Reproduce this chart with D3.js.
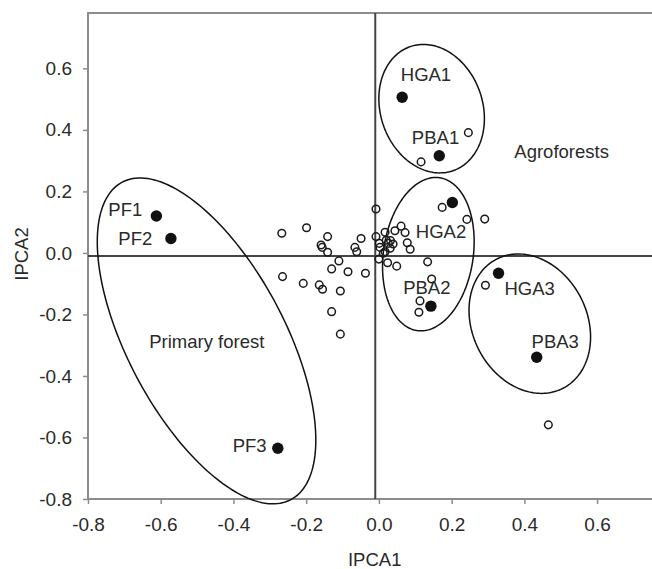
<!DOCTYPE html>
<html>
<head>
<meta charset="utf-8">
<script src="https://cdn.jsdelivr.net/npm/d3@7"></script>
<style>
  html, body { margin: 0; padding: 0; background: #fff; }
  svg { display: block; }
  text { font-family: "Liberation Sans", Arial, sans-serif; fill: #2a2a2a; }
</style>
</head>
<body>
<svg id="chart" width="652" height="569"></svg>
<script>
// ---- data ----
const siteNames = ["HGA1", "PBA1", "HGA2", "PBA2", "HGA3", "PBA3", "PF1", "PF2", "PF3"];
const siteX = [0.064, 0.166, 0.202, 0.143, 0.329, 0.434, -0.612, -0.572, -0.278];
const siteY = [0.506, 0.316, 0.164, -0.173, -0.066, -0.339, 0.120, 0.047, -0.635];

const speciesX = [-0.267, -0.199, -0.141, -0.159, -0.156, -0.141, -0.049, -0.066, -0.061, -0.008,
                  -0.008, 0.017, 0.044, -0.110, -0.130, -0.085, -0.037, -0.265, -0.208, -0.164,
                  -0.155, -0.106, -0.130, -0.106, 0.001, 0.003, 0.026, 0.031, 0.017, 0.000,
                  0.024, 0.049, 0.061, 0.072, 0.078, 0.086, 0.012, 0.134, 0.145, 0.113,
                  0.110, 0.293, 0.466, 0.246, 0.116, 0.174, 0.242, 0.291, 0.032, 0.020,
                  0.039];
const speciesY = [0.064, 0.082, 0.053, 0.026, 0.018, 0.002, 0.047, 0.018, 0.004, 0.143,
                  0.053, 0.067, 0.072, -0.026, -0.052, -0.061, -0.066, -0.077, -0.099, -0.104,
                  -0.118, -0.124, -0.191, -0.264, 0.031, 0.018, 0.031, 0.015, 0.004, -0.020,
                  -0.032, -0.043, 0.087, 0.066, 0.033, 0.012, -0.001, -0.029, -0.085, -0.156,
                  -0.193, -0.105, -0.559, 0.391, 0.296, 0.148, 0.109, 0.110, 0.040, 0.041,
                  0.029];

// ellipses: centre and two semi-axis vectors, all in data units
const ellipseCx = [-0.474, 0.145, 0.136, 0.415];
const ellipseCy = [-0.286, 0.469, -0.004, -0.230];
const ellipseA = [[0.232, -0.516], [0.059, -0.2016], [-0.0311, -0.2484], [0.0913, -0.210]];
const ellipseB = [[-0.191, -0.120], [-0.1326, -0.0543], [-0.1221, 0.0215], [-0.140, -0.0852]];

// labels (text, anchor position in data units, alignment)
const labelText = ["HGA1", "PBA1", "HGA2", "PBA2", "HGA3", "PBA3", "PF1", "PF2", "PF3", "Primary forest", "Agroforests"];
const labelX = [0.1295, 0.1557, 0.1708, 0.1317, 0.4147, 0.4849, -0.6507, -0.6232, -0.3086, -0.4733, 0.3724];
const labelY = [0.558, 0.353, 0.0494, -0.1346, -0.1352, -0.3101, 0.1209, 0.0257, -0.6463, -0.3101, 0.3075];
const labelAnchor = ["middle", "middle", "middle", "middle", "middle", "middle", "end", "end", "end", "middle", "start"];

const xTicks = [-0.8, -0.6, -0.4, -0.2, 0.0, 0.2, 0.4, 0.6];
const yTicks = [-0.8, -0.6, -0.4, -0.2, 0.0, 0.2, 0.4, 0.6];
const xDomain = [-0.8, 0.8];
const yDomain = [-0.8, 0.78];
const zeroLine = -0.01;
const xTitle = "IPCA1";
const yTitle = "IPCA2";

// ---- drawing ----
const svg = d3.select("#chart");
const x = d3.scaleLinear().domain(xDomain).range([88, 669.8]);
const y = d3.scaleLinear().domain(yDomain).range([499, 13]);
const fmt = d => d.toFixed(1);

// frame
svg.append("rect")
  .attr("x", x(xDomain[0])).attr("y", y(yDomain[1]))
  .attr("width", x(xDomain[1]) - x(xDomain[0]))
  .attr("height", y(yDomain[0]) - y(yDomain[1]))
  .attr("fill", "none").attr("stroke", "#8c8c8c").attr("stroke-width", 2);

// axes
const xAxis = svg.append("g").attr("transform", `translate(0,${y(yDomain[0])})`)
  .call(d3.axisBottom(x).tickValues(xTicks).tickFormat(fmt).tickSize(5).tickSizeOuter(0).tickPadding(14));
const yAxis = svg.append("g").attr("transform", `translate(${x(xDomain[0])},0)`)
  .call(d3.axisLeft(y).tickValues(yTicks).tickFormat(fmt).tickSize(5).tickSizeOuter(0).tickPadding(11));
[xAxis, yAxis].forEach(g => {
  g.select(".domain").remove();
  g.selectAll(".tick line").attr("stroke", "#8c8c8c").attr("stroke-width", 1.5);
  g.selectAll(".tick text").attr("fill", "#2a2a2a").style("font-size", "19px")
    .style("font-family", '"Liberation Sans", Arial, sans-serif');
});

// zero lines
svg.append("line")
  .attr("x1", x(xDomain[0])).attr("x2", x(xDomain[1]))
  .attr("y1", y(zeroLine)).attr("y2", y(zeroLine))
  .attr("stroke", "#444").attr("stroke-width", 2);
svg.append("line")
  .attr("x1", x(zeroLine)).attr("x2", x(zeroLine))
  .attr("y1", y(yDomain[0])).attr("y2", y(yDomain[1]))
  .attr("stroke", "#444").attr("stroke-width", 2);

// ellipses
const line = d3.line().curve(d3.curveLinearClosed);
ellipseCx.forEach((cx, i) => {
  const pts = d3.range(0, 360, 2).map(deg => {
    const t = deg * Math.PI / 180;
    const dx = cx + ellipseA[i][0] * Math.cos(t) + ellipseB[i][0] * Math.sin(t);
    const dy = ellipseCy[i] + ellipseA[i][1] * Math.cos(t) + ellipseB[i][1] * Math.sin(t);
    return [x(dx), y(dy)];
  });
  svg.append("path").attr("d", line(pts))
    .attr("fill", "none").attr("stroke", "#111").attr("stroke-width", 1.5);
});

// species (open circles)
svg.append("g").selectAll("circle")
  .data(speciesX.map((v, i) => [v, speciesY[i]]))
  .join("circle")
  .attr("cx", d => x(d[0])).attr("cy", d => y(d[1])).attr("r", 3.8)
  .attr("fill", "none").attr("stroke", "#1a1a1a").attr("stroke-width", 1.5);

// sites (filled)
svg.append("g").selectAll("circle")
  .data(siteNames.map((n, i) => [siteX[i], siteY[i]]))
  .join("circle")
  .attr("cx", d => x(d[0])).attr("cy", d => y(d[1])).attr("r", 5.7)
  .attr("fill", "#111");

// labels
svg.append("g").selectAll("text")
  .data(labelText.map((t, i) => ({ t, x: labelX[i], y: labelY[i], a: labelAnchor[i] })))
  .join("text")
  .attr("x", d => x(d.x)).attr("y", d => y(d.y))
  .attr("text-anchor", d => d.a)
  .style("font-size", "18.5px")
  .text(d => d.t);

// axis titles
svg.append("text").attr("x", 374.7).attr("y", 566).attr("text-anchor", "middle")
  .style("font-size", "18.5px").text(xTitle);
svg.append("text").attr("transform", "translate(27.5,254) rotate(-90)").attr("text-anchor", "middle")
  .style("font-size", "18.5px").text(yTitle);
</script>
</body>
</html>
